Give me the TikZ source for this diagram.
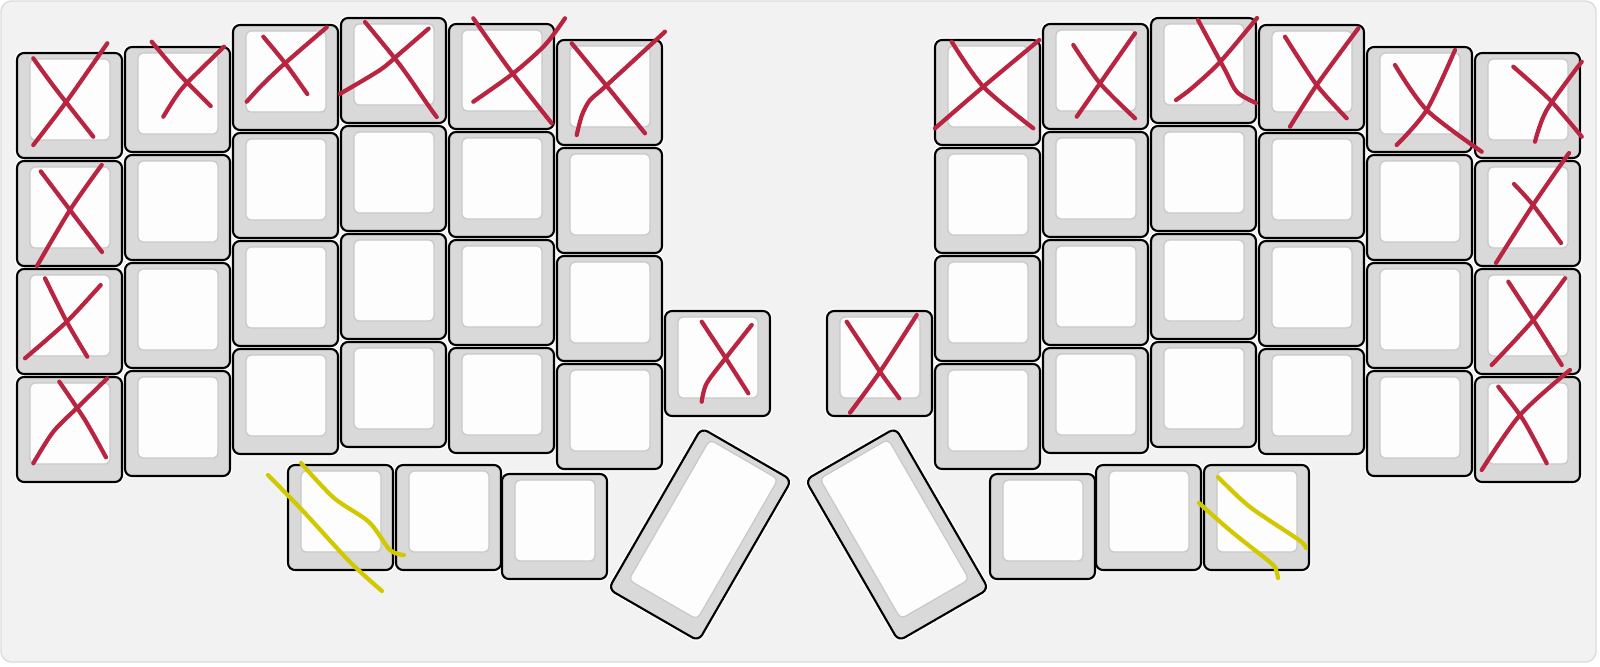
\documentclass[tikz,border=0pt]{standalone}
\usetikzlibrary{calc}
\definecolor{bgfill}{RGB}{242,242,242}
\definecolor{bgline}{RGB}{220,220,220}
\definecolor{keyband}{RGB}{217,217,217}
\definecolor{keyface}{RGB}{253,253,253}
\definecolor{faceedge}{RGB}{200,200,200}
\definecolor{markred}{RGB}{185,36,64}
\definecolor{markyel}{RGB}{210,200,0}
\tikzset{
  keyhalo/.style={draw=white, line width=1.4pt, rounded corners=2pt},
  keyouter/.style={draw=black, fill=keyband, line width=0.6pt, rounded corners=2pt},
  keyfaceS/.style={draw=faceedge, fill=keyface, line width=0.35pt, rounded corners=1.4pt},
  redmark/.style={draw=markred, line width=1.2pt, line cap=round, line join=round},
  yelmark/.style={draw=markyel, line width=1.2pt, line cap=round, line join=round},
}
% key with top-left corner (#1,#2), width #3, height #4 (pixel units, y down)
\newcommand{\keyhaloat}[4]{\path[keyhalo] (#1,#2) rectangle ++(#3,#4);}
\newcommand{\keyat}[4]{%
  \path[keyouter] (#1,#2) rectangle ++(#3,#4);
  \path[keyfaceS] ($(#1,#2)+(13,6)$) rectangle ($(#1,#2)+(#3,#4)+(-12,-18)$);
}
\begin{document}
\begin{tikzpicture}[x=0.01cm,y=-0.01cm]
\useasboundingbox (0,0) rectangle (1600,666);
\fill[white] (0,0) rectangle (1600,666);
\path[draw=bgline, fill=bgfill, line width=0.4pt, rounded corners=3pt] (1,1) rectangle (1596,662);

% halos
\foreach \x/\t in {17/53,125/47,233/25,341/18,449/24,557/40,935/40,1043/24,1151/18,1259/25,1367/47,1475/53}
  \foreach \r in {0,1,2,3} { \keyhaloat{\x}{\t+108*\r}{105}{105} }
\foreach \x/\y in {665/311,827/311,288/465,396/465,502/474,1204/465,1096/465,990/474}
  { \keyhaloat{\x}{\y}{105}{105} }
\begin{scope}[shift={(700,534.5)}, rotate=-30]
  \keyhaloat{-52}{-93}{104}{186}
\end{scope}
\begin{scope}[shift={(897,534.5)}, rotate=30]
  \keyhaloat{-52}{-93}{104}{186}
\end{scope}

% keys
\foreach \x/\t in {17/53,125/47,233/25,341/18,449/24,557/40,935/40,1043/24,1151/18,1259/25,1367/47,1475/53}
  \foreach \r in {0,1,2,3} { \keyat{\x}{\t+108*\r}{105}{105} }
\foreach \x/\y in {665/311,827/311,288/465,396/465,502/474,1204/465,1096/465,990/474}
  { \keyat{\x}{\y}{105}{105} }
\begin{scope}[shift={(700,534.5)}, rotate=-30]
  \keyat{-52}{-93}{104}{186}
\end{scope}
\begin{scope}[shift={(897,534.5)}, rotate=30]
  \keyat{-52}{-93}{104}{186}
\end{scope}

% red crosses, left half
\draw[redmark] plot[smooth] coordinates {(33.3,58.3) (55,88) (93.3,136.7)};
\draw[redmark] plot[smooth] coordinates {(33.3,145) (50,123.3) (70,96.7) (107.3,43.3)};
\draw[redmark] plot[smooth] coordinates {(151.7,41.7) (180,75) (210.7,106)};
\draw[redmark] plot[smooth] coordinates {(163.3,116.7) (175,98) (186.7,83.3) (224,46.7)};
\draw[redmark] plot[smooth] coordinates {(263.3,36.7) (285,63) (307.3,94)};
\draw[redmark] plot[smooth] coordinates {(246.7,101.7) (262,85) (285,63.3) (326.7,27.3)};
\draw[redmark] plot[smooth] coordinates {(365,22) (400,65) (428,105) (436.7,117)};
\draw[redmark] plot[smooth] coordinates {(339.8,93.9) (380,70) (400,53.3) (428.6,28.6)};
\draw[redmark] plot[smooth] coordinates {(473.3,18.3) (510,70) (551.7,123.3)};
\draw[redmark] plot[smooth] coordinates {(473.3,101.7) (513.3,73.3) (545,45) (565,18.3)};
\draw[redmark] plot[smooth] coordinates {(571.7,43.3) (610,90) (645,133.3)};
\draw[redmark] plot[smooth] coordinates {(576.7,135) (582,115) (590,100) (603.3,88.3) (665,31.7)};
\draw[redmark] plot[smooth] coordinates {(40.8,171.4) (70,210) (102,252)};
\draw[redmark] plot[smooth] coordinates {(101.7,165) (70,210) (37,266)};
\draw[redmark] plot[smooth] coordinates {(45,278.3) (66.7,321.7) (87.3,356.7)};
\draw[redmark] plot[smooth] coordinates {(25,358.3) (66.7,321.7) (100.7,285)};
\draw[redmark] plot[smooth] coordinates {(59.3,381.7) (85,420) (106,457.3)};
\draw[redmark] plot[smooth] coordinates {(33.3,463.3) (53.3,431.7) (78.3,406.7) (107.3,378.3)};
\draw[redmark] plot[smooth] coordinates {(701.7,321.7) (725,357) (748.3,393.3)};
\draw[redmark] plot[smooth] coordinates {(701.7,401.7) (706.7,383.3) (726.7,356.7) (751.7,325)};

% red crosses, right half
\draw[redmark] plot[smooth] coordinates {(951.7,41.7) (983.3,86.7) (1033.3,128.3)};
\draw[redmark] plot[smooth] coordinates {(935,128.3) (983.3,86.7) (1039.3,40)};
\draw[redmark] plot[smooth] coordinates {(1073.3,45) (1100,83.3) (1135,118.3)};
\draw[redmark] plot[smooth] coordinates {(1076.7,116.7) (1100,83.3) (1135,33.3)};
\draw[redmark] plot[smooth] coordinates {(1198,20) (1225,70) (1237,92) (1256,103)};
\draw[redmark] plot[smooth] coordinates {(1176,100) (1192,88) (1220,62) (1257,18)};
\draw[redmark] plot[smooth] coordinates {(1285,36.7) (1316.7,85) (1346.7,118.3)};
\draw[redmark] plot[smooth] coordinates {(1290,126.7) (1316.7,85) (1358.3,28.3)};
\draw[redmark] plot[smooth] coordinates {(1395,65) (1426.7,110) (1481.7,151.7)};
\draw[redmark] plot[smooth] coordinates {(1396.7,145) (1426.7,110) (1455,50)};
\draw[redmark] plot[smooth] coordinates {(1513.3,66.7) (1550,100) (1581.7,136.7)};
\draw[redmark] plot[smooth] coordinates {(1535,141.7) (1546.7,110) (1581.7,61.7)};
\draw[redmark] plot[smooth] coordinates {(1514,184) (1533,205) (1561,243)};
\draw[redmark] plot[smooth] coordinates {(1569,153) (1533,205) (1496,263)};
\draw[redmark] plot[smooth] coordinates {(1508.3,281.7) (1533.3,320) (1561.7,365)};
\draw[redmark] plot[smooth] coordinates {(1491.7,365) (1533.3,320) (1565,278.3)};
\draw[redmark] plot[smooth] coordinates {(1498.3,386.7) (1523.3,420) (1546.7,463.3)};
\draw[redmark] plot[smooth] coordinates {(1481.7,470) (1520,415) (1570,370)};
\draw[redmark] plot[smooth] coordinates {(846.7,321.7) (880,371.7) (899.3,398.3)};
\draw[redmark] plot[smooth] coordinates {(850,412.7) (880,371.7) (916.7,315)};

% yellow strokes
\draw[yelmark] plot[smooth] coordinates {(268,475) (303,511) (350,562) (382,591)};
\draw[yelmark] plot[smooth] coordinates {(301,463) (334,498) (369,522) (390,550) (404,555)};
\draw[yelmark] plot[smooth] coordinates {(1199,503) (1232,532) (1271,563) (1276,570) (1278,578)};
\draw[yelmark] plot[smooth] coordinates {(1218,477) (1250,507) (1299,540) (1306,548)};
\end{tikzpicture}
\end{document}
